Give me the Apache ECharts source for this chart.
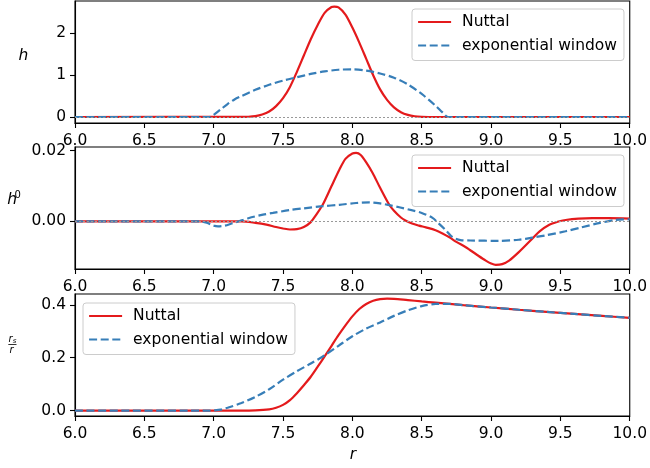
<!DOCTYPE html>
<html>
<head>
<meta charset="utf-8">
<script src="https://cdn.jsdelivr.net/npm/echarts@6/dist/echarts.min.js"></script>
<style>html,body{margin:0;padding:0;background:#fff}#c{width:650px;height:468px}</style>
</head>
<body>
<div id="c"></div>
<script>
// ---- data ----
const seriesNames = ['Nuttal', 'exponential window'];
const xTicks = [6.0, 6.5, 7.0, 7.5, 8.0, 8.5, 9.0, 9.5, 10.0];
const hTicks = [0, 1, 2];
const h0Ticks = [0, 0.02];
const rsTicks = [0, 0.2, 0.4];

// panel 1 : h
const hNuttalX = [6.0, 7.2, 7.25, 7.3, 7.35, 7.4, 7.45, 7.5, 7.55, 7.6, 7.65, 7.7, 7.75, 7.8, 7.85, 7.87, 7.9, 7.95, 8.0, 8.05, 8.1, 8.15, 8.2, 8.25, 8.3, 8.35, 8.4, 8.45, 8.5, 8.55, 10.0];
const hNuttalY = [0, 0.001, 0.006, 0.022, 0.06, 0.13, 0.26, 0.45, 0.72, 1.08, 1.47, 1.86, 2.20, 2.49, 2.63, 2.64, 2.62, 2.45, 2.14, 1.78, 1.39, 1.00, 0.66, 0.41, 0.23, 0.115, 0.05, 0.018, 0.004, 0, 0];
const hExpX = [6.0, 6.97, 7.0, 7.05, 7.1, 7.15, 7.2, 7.3, 7.4, 7.5, 7.6, 7.7, 7.8, 7.9, 8.0, 8.1, 8.2, 8.3, 8.4, 8.5, 8.6, 8.65, 8.69, 10.0];
const hExpY = [0, 0, 0.05, 0.18, 0.31, 0.42, 0.50, 0.65, 0.77, 0.87, 0.95, 1.03, 1.09, 1.13, 1.14, 1.11, 1.04, 0.94, 0.78, 0.55, 0.27, 0.11, 0, 0];

// panel 2 : h^0
const h0NuttalX = [6.0, 7.2, 7.3, 7.38, 7.45, 7.5, 7.55, 7.6, 7.65, 7.7, 7.74, 7.786, 7.81, 7.85, 7.906, 7.95, 8.0, 8.027, 8.06, 8.1, 8.146, 8.2, 8.266, 8.3, 8.35, 8.386, 8.43, 8.48, 8.53, 8.6, 8.65, 8.7, 8.75, 8.818, 8.9, 8.962, 9.0, 9.034, 9.08, 9.13, 9.2, 9.297, 9.35, 9.417, 9.48, 9.537, 9.63, 9.73, 9.85, 10.0];
const h0NuttalY = [0, 0, -0.0004, -0.0009, -0.0016, -0.0020, -0.0023, -0.0022, -0.0016, -0.0002, 0.0019, 0.0047, 0.0066, 0.0100, 0.0146, 0.0177, 0.0192, 0.0194, 0.0188, 0.0167, 0.0137, 0.0095, 0.0047, 0.0030, 0.0011, 0.0002, -0.0006, -0.0012, -0.0017, -0.0025, -0.0034, -0.0045, -0.0058, -0.0073, -0.0095, -0.0111, -0.0119, -0.0123, -0.0121, -0.0111, -0.0087, -0.0049, -0.0028, -0.0010, -0.0001, 0.0004, 0.0008, 0.0009, 0.0009, 0.0008];
const h0ExpX = [6.0, 6.9, 6.95, 7.0, 7.031, 7.08, 7.13, 7.187, 7.25, 7.355, 7.427, 7.547, 7.65, 7.786, 7.906, 8.027, 8.122, 8.2, 8.266, 8.338, 8.434, 8.5, 8.578, 8.62, 8.674, 8.72, 8.78, 8.85, 9.058, 9.2, 9.297, 9.4, 9.537, 9.65, 9.777, 9.897, 10.0];
const h0ExpY = [0, 0, -0.0004, -0.0012, -0.0014, -0.0012, -0.0006, 0.0001, 0.0009, 0.0019, 0.0024, 0.0032, 0.0037, 0.0043, 0.0047, 0.0052, 0.0054, 0.0051, 0.0046, 0.0040, 0.0031, 0.0024, 0.0010, -0.0005, -0.0025, -0.0044, -0.0053, -0.0054, -0.0055, -0.0052, -0.0046, -0.0039, -0.0028, -0.0017, -0.0005, 0.0004, 0.0006];

// panel 3 : r_s / r
const rsNuttalX = [6.0, 7.2, 7.3, 7.4, 7.45, 7.5, 7.55, 7.6, 7.65, 7.7, 7.75, 7.8, 7.85, 7.9, 7.95, 8.0, 8.05, 8.1, 8.15, 8.2, 8.25, 8.3, 8.4, 8.5, 8.6, 8.8, 9.0, 9.2, 9.4, 9.6, 9.8, 10.0];
const rsNuttalY = [0, 0, 0.001, 0.005, 0.011, 0.022, 0.040, 0.066, 0.096, 0.128, 0.166, 0.205, 0.245, 0.285, 0.322, 0.356, 0.384, 0.403, 0.415, 0.421, 0.423, 0.4225, 0.4175, 0.4126, 0.4078, 0.3985, 0.3897, 0.3812, 0.3731, 0.3653, 0.3579, 0.3507];
const rsExpX = [6.0, 6.97, 7.0, 7.05, 7.1, 7.2, 7.3, 7.4, 7.5, 7.6, 7.7, 7.8, 7.9, 8.0, 8.1, 8.2, 8.3, 8.4, 8.5, 8.6, 8.69, 8.8, 9.0, 9.2, 9.4, 9.6, 9.8, 10.0];
const rsExpY = [0, 0, 0.001, 0.004, 0.011, 0.029, 0.052, 0.081, 0.117, 0.149, 0.178, 0.209, 0.245, 0.281, 0.310, 0.333, 0.358, 0.379, 0.395, 0.403, 0.4036, 0.3985, 0.3897, 0.3812, 0.3731, 0.3653, 0.3579, 0.3507];

// ---- chart ----
const zip = (xs, ys) => xs.map((x, i) => [x, ys[i]]);
const FONT = 'DejaVu Sans';
const FS = 15.5;
const RED = '#e41a1c', BLUE = '#377eb8';
const tops = [1, 147, 294];
const plotH = 122;
const yRanges = [[-0.144, 2.775], [-0.01347, 0.02105], [-0.0201, 0.4406]];
const yTickSets = [hTicks, h0Ticks, rsTicks];
const yFmt = [v => String(Math.round(v)), v => v.toFixed(2), v => v.toFixed(1)];

const grids = tops.map(t => ({left: 75, right: 19, top: t, height: plotH, show: true, borderColor: '#000', borderWidth: 1.1, backgroundColor: 'transparent'}));
const xAxes = tops.map((t, i) => ({
  type: 'value', gridIndex: i, min: 6, max: 10, interval: 0.5,
  axisLine: {show: true, onZero: false, lineStyle: {color: '#000', width: 1.1}},
  axisTick: {show: true, length: 5, lineStyle: {color: '#000', width: 1.1}},
  axisLabel: {show: true, margin: 9.5, color: '#000', fontSize: FS, fontFamily: FONT, formatter: v => v.toFixed(1), customValues: xTicks},
  splitLine: {show: false}
}));
const yAxes = tops.map((t, i) => ({
  type: 'value', gridIndex: i, min: yRanges[i][0], max: yRanges[i][1],
  axisLine: {show: true, onZero: false, lineStyle: {color: '#000', width: 1.1}},
  axisTick: {show: true, length: 5, customValues: yTickSets[i], lineStyle: {color: '#000', width: 1.1}},
  axisLabel: {show: true, margin: 9, color: '#000', fontSize: FS, fontFamily: FONT, customValues: yTickSets[i], formatter: yFmt[i]},
  splitLine: {show: false}
}));

const dataSets = [[zip(hNuttalX, hNuttalY), zip(hExpX, hExpY)], [zip(h0NuttalX, h0NuttalY), zip(h0ExpX, h0ExpY)], [zip(rsNuttalX, rsNuttalY), zip(rsExpX, rsExpY)]];
const series = [];
dataSets.forEach((pair, i) => {
  if (i < 2) {
    series.push({type: 'line', xAxisIndex: i, yAxisIndex: i, data: [], silent: true, z: 1,
      markLine: {silent: true, symbol: 'none', label: {show: false}, animation: false,
        lineStyle: {type: [2, 2], color: '#999', width: 1.2}, data: [{yAxis: 0}]}});
  }
  series.push({name: seriesNames[0], type: 'line', xAxisIndex: i, yAxisIndex: i, data: pair[0], showSymbol: false, symbol: 'none', smooth: 0.3, z: 3,
    lineStyle: {color: RED, width: 2.2}, itemStyle: {color: RED}});
  series.push({name: seriesNames[1], type: 'line', xAxisIndex: i, yAxisIndex: i, data: pair[1], showSymbol: false, symbol: 'none', smooth: 0.3, z: 4,
    lineStyle: {color: BLUE, width: 2.2, type: [8, 3.6]}, itemStyle: {color: BLUE}});
});

const legendPos = [[412, 9], [412, 155], [83, 303]];
const legends = legendPos.map(p => ({
  data: seriesNames, orient: 'vertical', left: p[0], top: p[1],
  padding: [5, 7, 7, 5], itemGap: 7.5, itemWidth: 33, itemHeight: 14,
  backgroundColor: 'rgba(255,255,255,0.8)', borderColor: '#cccccc', borderWidth: 1, borderRadius: 3,
  itemStyle: {opacity: 0},
  lineStyle: {width: 2.2},
  textStyle: {fontSize: FS, fontFamily: FONT, color: '#000', padding: [0, 0, 0, 6]},
  selectedMode: false
}));

const italic = 'italic 15.5px "DejaVu Sans"';
const small = 'italic 10px "DejaVu Sans"';
const graphic = [
  {type: 'text', x: 23.5, y: 56, style: {text: 'h', font: italic, fill: '#000', align: 'center', verticalAlign: 'middle'}},
  {type: 'text', x: 12.2, y: 200, style: {text: 'h', font: italic, fill: '#000', align: 'center', verticalAlign: 'middle'}},
  {type: 'text', x: 17.8, y: 195.5, style: {text: '0', font: '10px "DejaVu Sans"', fill: '#000', align: 'center', verticalAlign: 'middle'}},
  {type: 'text', x: 10.5, y: 339.5, style: {text: 'r', font: small, fill: '#000', align: 'center', verticalAlign: 'middle'}},
  {type: 'text', x: 14.5, y: 341.5, style: {text: 's', font: 'italic 7px "DejaVu Sans"', fill: '#000', align: 'center', verticalAlign: 'middle'}},
  {type: 'line', shape: {x1: 8.3, y1: 344.5, x2: 16.5, y2: 344.5}, style: {stroke: '#000', lineWidth: 0.8}},
  {type: 'text', x: 11.5, y: 350.5, style: {text: 'r', font: small, fill: '#000', align: 'center', verticalAlign: 'middle'}},
  {type: 'text', x: 353, y: 455, style: {text: 'r', font: italic, fill: '#000', align: 'center', verticalAlign: 'middle'}}
];

const chart = echarts.init(document.getElementById('c'), null, {renderer: 'canvas'});
chart.setOption({
  animation: false,
  backgroundColor: '#fff',
  grid: grids, xAxis: xAxes, yAxis: yAxes, series: series, legend: legends, graphic: graphic
});
</script>
</body>
</html>
